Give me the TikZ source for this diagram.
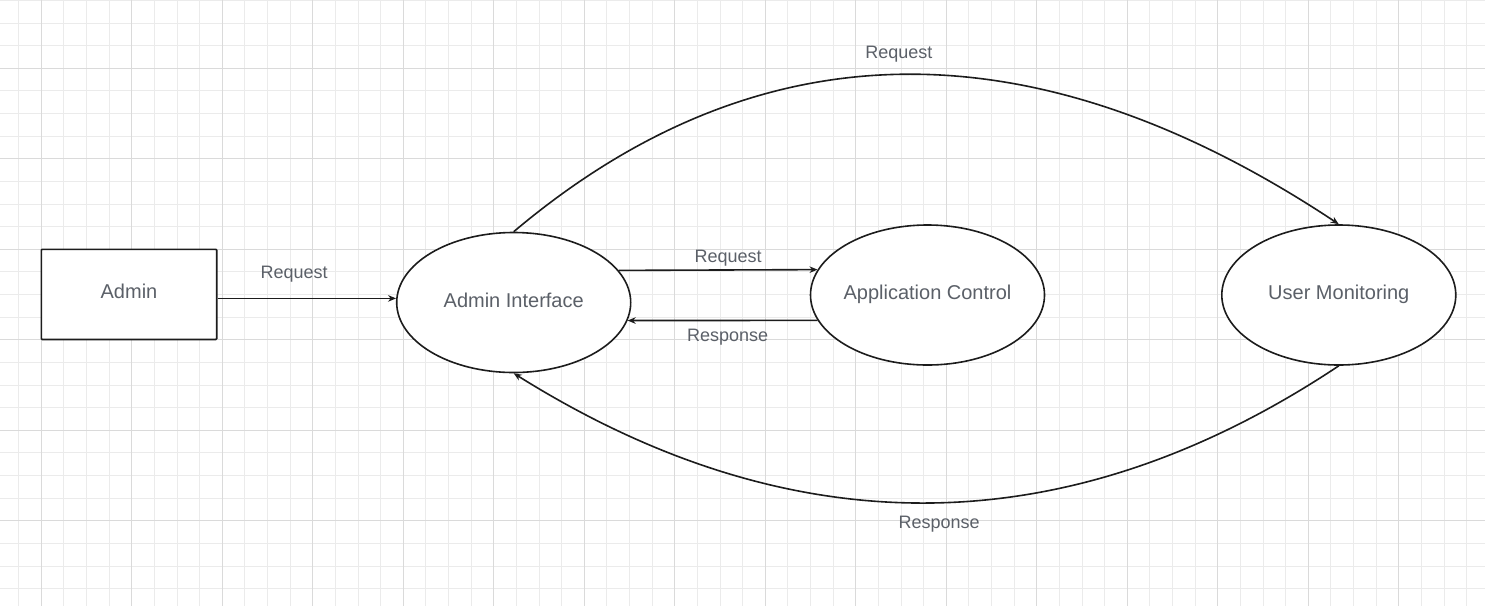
\documentclass[tikz,border=0pt]{standalone}
\usepackage{fontspec}
\setmainfont{Liberation Sans}
\usetikzlibrary{shapes.geometric,arrows.meta}
\definecolor{txtgray}{HTML}{5B6068}
\definecolor{gridminor}{HTML}{EBEBEB}
\definecolor{gridmajor}{HTML}{DADADA}
\definecolor{ink}{HTML}{1C1C1C}
\begin{document}
\begin{tikzpicture}[x=1pt, y=-1pt, line width=1.6pt,
box/.style={draw=ink, fill=white, rounded corners=1pt, minimum width=175.4pt, minimum height=90.2pt, inner sep=0pt},
proc/.style={ellipse, draw=ink, fill=white, minimum width=234pt, minimum height=140pt, inner xsep=-3pt, inner ysep=0pt},
ntext/.style={text=txtgray, font=\fontsize{20}{24}\selectfont, text height=15pt, text depth=6pt},
lbl/.style={text=txtgray, font=\fontsize{18}{22}\selectfont, text height=13.5pt, text depth=5.4pt, inner sep=0pt},
flow/.style={draw=ink, -{Stealth[length=8pt, width=6.5pt, inset=2.5pt]}}]
\useasboundingbox (0,0) rectangle (1485,606);
\fill[white] (0,0) rectangle (1485,606);
\foreach \i in {-1,...,63}
{
\draw[gridminor, line width=1pt] ({41.3+22.625*\i},0) -- ({41.3+22.625*\i},606);
}
\foreach \j in {-3,...,23}
{
\draw[gridminor, line width=1pt] (0,{68.3+22.625*\j}) -- (1485,{68.3+22.625*\j});
}
\foreach \i in {0,...,15}
{
\draw[gridmajor, line width=1pt] ({41.3+90.5*\i},0) -- ({41.3+90.5*\i},606);
}
\foreach \j in {0,...,5}
{
\draw[gridmajor, line width=1pt] (0,{68.3+90.5*\j}) -- (1485,{68.3+90.5*\j});
}

\node[box, ntext] (admin) at (129,294.4) {Admin};
\node[proc, ntext] (ai) at (513.7,302.5) {Admin Interface};
\node[proc, ntext] (ac) at (927.5,295) {Application Control};
\node[proc, ntext] (um) at (1338.8,295) {User Monitoring};

\draw[flow] (admin.east |- ai.178.8) -- node[lbl, xshift=-12.7pt, yshift=23.5pt]{Request} (ai.178.8);
\draw[flow] (ai.17) -- node[lbl, xshift=10pt, yshift=11.7pt]{Request} (ac.167.5);
\draw[flow] (ac.193.9) -- node[lbl, xshift=5pt, yshift=-16.8pt]{Response} (ai.-9.7);
\draw[flow] (ai.north) .. controls +(245.5,-207) and +(-304.5,-202) .. node[lbl, xshift=-5.3pt, yshift=19.8pt]{Request} (um.north);
\draw[flow] (um.south) .. controls +(-270.5,180) and +(279.5,175) .. node[lbl, xshift=9.4pt, yshift=-22pt]{Response} (ai.south);
\end{tikzpicture}
\end{document}
